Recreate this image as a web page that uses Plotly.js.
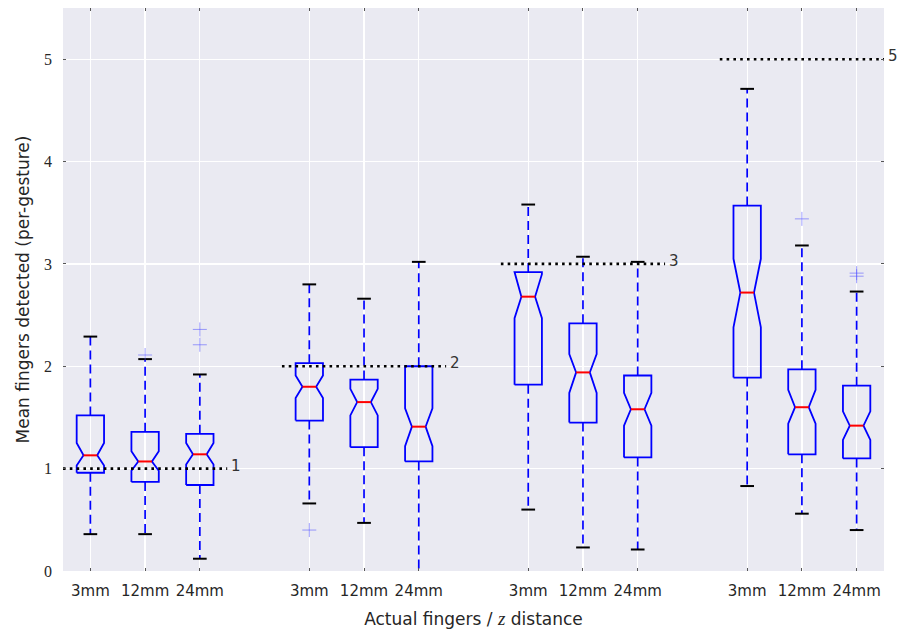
<!DOCTYPE html>
<html>
<head>
<meta charset="utf-8">
<script src="https://cdn.plot.ly/plotly-3.0.1.min.js"></script>
<style>html,body{margin:0;padding:0;background:#fff;}#chart{width:898px;height:634px;}</style>
</head>
<body>
<div id="chart"></div>
<script>
// ---- data ----
const positions   = [1, 2, 3, 5, 6, 7, 9, 10, 11, 13, 14, 15];
const tickLabels  = ['3mm','12mm','24mm','3mm','12mm','24mm','3mm','12mm','24mm','3mm','12mm','24mm'];
const lowerFence  = [0.36, 0.36, 0.12, 0.66, 0.47, 0.00, 0.60, 0.23, 0.21, 0.83, 0.56, 0.40];
const q1          = [0.96, 0.87, 0.84, 1.47, 1.21, 1.07, 1.82, 1.45, 1.11, 1.89, 1.14, 1.10];
const notchLo     = [1.03, 0.98, 1.04, 1.69, 1.52, 1.22, 2.47, 1.74, 1.42, 2.38, 1.44, 1.28];
const median      = [1.13, 1.07, 1.14, 1.80, 1.65, 1.41, 2.68, 1.94, 1.58, 2.72, 1.60, 1.42];
const notchHi     = [1.25, 1.17, 1.25, 1.91, 1.78, 1.59, 2.90, 2.12, 1.74, 3.05, 1.77, 1.56];
const q3          = [1.52, 1.36, 1.34, 2.03, 1.87, 2.00, 2.92, 2.42, 1.91, 3.57, 1.97, 1.81];
const upperFence  = [2.29, 2.07, 1.92, 2.80, 2.66, 3.02, 3.58, 3.07, 3.02, 4.71, 3.18, 2.73];
const outlierPos  = [2, 3, 3, 5, 14, 15, 15];
const outlierVal  = [2.11, 2.21, 2.36, 0.40, 3.44, 2.88, 2.91];
const targetValue = [1, 2, 3, 5];
const targetStart = [0.5, 4.5, 8.5, 12.5];
const targetEnd   = [3.5, 7.5, 11.5, 15.5];

// ---- build geometry from data ----
const HW = 0.25, NW = 0.125;
const boxX = [], boxY = [], medX = [], medY = [], whX = [], whY = [], capX = [], capY = [];
positions.forEach((c, i) => {
  boxX.push(c-HW, c-HW, c-NW, c-HW, c-HW, c+HW, c+HW, c+NW, c+HW, c+HW, c-HW, null);
  boxY.push(q1[i], notchLo[i], median[i], notchHi[i], q3[i], q3[i], notchHi[i], median[i], notchLo[i], q1[i], q1[i], null);
  medX.push(c-NW, c+NW, null); medY.push(median[i], median[i], null);
  whX.push(c, c, null, c, c, null);
  whY.push(q1[i], lowerFence[i], null, q3[i], upperFence[i], null);
  if (lowerFence[i] > 0) { capX.push(c-NW, c+NW, null); capY.push(lowerFence[i], lowerFence[i], null); }
  capX.push(c-NW, c+NW, null); capY.push(upperFence[i], upperFence[i], null);
});
const tgX = [], tgY = [];
targetValue.forEach((v, i) => { tgX.push(targetStart[i], targetEnd[i], null); tgY.push(v, v, null); });

const traces = [
  {x: whX, y: whY, mode: 'lines', line: {color: '#0000ff', width: 1.7, dash: '9px,5px'}, hoverinfo: 'skip'},
  {x: capX, y: capY, mode: 'lines', line: {color: '#000000', width: 2}, hoverinfo: 'skip'},
  {x: boxX, y: boxY, mode: 'lines', line: {color: '#0000ff', width: 1.8}, hoverinfo: 'skip'},
  {x: medX, y: medY, mode: 'lines', line: {color: '#ff0000', width: 2}, hoverinfo: 'skip'},
  {x: outlierPos, y: outlierVal, mode: 'markers',
   marker: {symbol: 'cross-thin-open', size: 10, color: 'rgba(80,80,255,0.55)', line: {color: 'rgba(80,80,255,0.55)', width: 1}}, hoverinfo: 'skip'},
  {x: tgX, y: tgY, mode: 'lines', line: {color: '#000000', width: 2.6, dash: '2.6px,4.2px'}, hoverinfo: 'skip'}
];

const SANS = 'DejaVu Sans, Liberation Sans, Arial, sans-serif';
const annotations = targetValue.map((v, i) => ({
  x: targetEnd[i], y: v, xref: 'x', yref: 'y', text: String(v), showarrow: false,
  xanchor: 'left', yanchor: 'middle', xshift: 2, yshift: 3,
  font: {family: SANS, size: 15, color: '#333333'}
}));

const layout = {
  width: 898, height: 634,
  margin: {l: 63, r: 14, t: 8, b: 63, pad: 0},
  paper_bgcolor: '#ffffff', plot_bgcolor: '#eaeaf2',
  showlegend: false,
  xaxis: {
    range: [0.5, 15.5], tickmode: 'array', tickvals: positions, ticktext: tickLabels,
    showgrid: true, gridcolor: '#ffffff', gridwidth: 1.3, zeroline: false, showline: false,
    ticks: 'inside', ticklen: 3, tickwidth: 1, tickcolor: '#555555', mirror: 'ticks',
    ticklabelstandoff: 9,
    tickfont: {family: SANS, size: 15, color: '#262626'},
    title: {text: 'Actual fingers / <span style="font-family:Liberation Serif,serif;font-size:19px"><i>z</i></span> distance',
            font: {family: SANS, size: 17, color: '#262626'}, standoff: 14}
  },
  yaxis: {
    range: [0, 5.5], tickmode: 'array', tickvals: [0,1,2,3,4,5], ticktext: ['0','1','2','3','4','5'],
    showgrid: true, gridcolor: '#ffffff', gridwidth: 1.3, zeroline: false, showline: false,
    ticks: 'inside', ticklen: 3, tickwidth: 1, tickcolor: '#555555', mirror: 'ticks',
    ticklabelstandoff: 10,
    tickfont: {family: 'Liberation Serif, serif', size: 16, color: '#262626'},
    title: {text: 'Mean fingers detected (per-gesture)',
            font: {family: SANS, size: 17, color: '#262626'}, standoff: 10}
  },
  annotations: annotations
};

Plotly.newPlot('chart', traces, layout, {staticPlot: true, displayModeBar: false});
</script>
</body>
</html>
